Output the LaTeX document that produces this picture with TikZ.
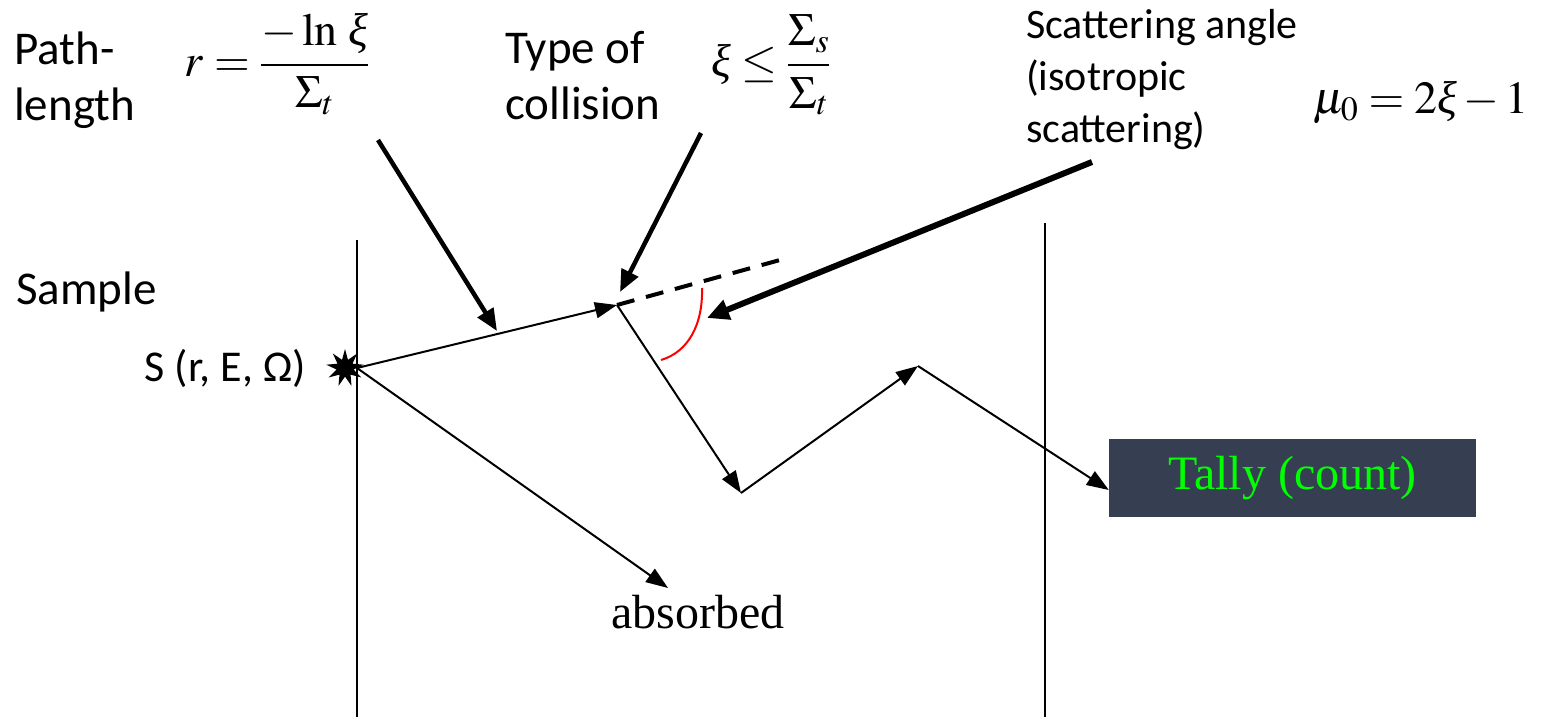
\documentclass[tikz,border=0pt]{standalone}
\usepackage{mathptmx}
\usepackage[no-math]{fontspec}
\setmainfont{Carlito}
\newfontfamily\serifrm{Liberation Serif}
\newcommand\xii{\mbox{\serifrm\itshape ξ}}
\usetikzlibrary{shapes.geometric,arrows.meta,calc}
\definecolor{tallybg}{HTML}{353F51}
\definecolor{tallyfg}{HTML}{00FF00}
\begin{document}
\begin{tikzpicture}[x=1pt,y=-1pt,
  lbl/.style={font=\fontsize{47}{56}\selectfont,align=left,inner sep=0pt},
  lbls/.style={font=\fontsize{42}{52}\selectfont,align=left,inner sep=0pt},
  eq/.style={font=\fontsize{46}{54}\selectfont,inner sep=0pt},
  thinarrow/.style={line width=2pt,-{Triangle[length=22pt,width=16pt]}},
  thickarrow/.style={line width=4.5pt,-{Triangle[length=22pt,width=18pt]}},
  heavyarrow/.style={line width=6pt,-{Triangle[length=22pt,width=20pt]}},
  wall/.style={line width=1.8pt}]
\useasboundingbox (0,0) rectangle (1541,717);
% walls
\draw[wall] (357,240) -- (357,717);
\draw[wall] (1045,223) -- (1045,717);
% labels
\node[lbl,anchor=west] (pl) at (14,80) {Path-\\length};
\node[eq] (f1) at (277,64) {$\displaystyle r=\frac{-\ln\,\xii}{\Sigma_t}$};
\node[lbl,anchor=west] (tc) at (505,76) {Type of\\collision};
\node[eq] (f2) at (771,65) {$\displaystyle \xii\leq\frac{\Sigma_s}{\Sigma_t}$};
\node[lbls,anchor=west] (sa) at (1026,80) {Scattering angle\\(isotropic\\scattering)};
\node[eq] (f3) at (1421,103) {$\mu_0=2\xii-1$};
\node[lbl,anchor=west] (sm) at (16,292) {Sample};
\node[lbl,font=\fontsize{44}{52}\selectfont,anchor=east] (sl) at (306,368) {S (r, E, Ω)};
\node[star,star points=9,star point ratio=2.2,fill=black,minimum size=38pt,inner sep=0pt] (star) at (345,368) {};
\node[font=\serifrm\fontsize{48}{54}\selectfont,inner sep=0pt] (abs) at (698,612) {absorbed};
\node[fill=tallybg,minimum width=367pt,minimum height=78pt,inner sep=0pt,
      text=tallyfg,font=\serifrm\fontsize{48}{54}\selectfont] (tally) at (1292.5,478) {\raisebox{-4pt}{Tally (count)}};
% path points
\coordinate (src) at (357,368);
\coordinate (coll) at (617,305);
\coordinate (b1) at (741,493);
\coordinate (b2) at (918,366);
\coordinate (absend) at (668,588);
\coordinate (dashend) at (780,260);
% pointer arrows
\coordinate (p1s) at (378,140);
\coordinate (p1e) at (497,331);
\coordinate (p2s) at (701,133);
\coordinate (p2e) at (620,292);
\coordinate (p3s) at (1092,162);
\coordinate (p3e) at (707,318);
% particle track
\draw[thinarrow] (src) -- (coll);
\draw[thinarrow] (coll) -- (b1);
\draw[thinarrow] (b1) -- (b2);
\draw[thinarrow] (b2) -- ($(tally.west)+(0,12)$);
\draw[thinarrow] (src) -- (absend);
\draw[line width=4pt,dash pattern=on 18pt off 12pt] (coll) -- (dashend);
\draw[red,line width=2pt] (702,288) .. controls (703,325) and (688,352) .. (661,360);
% explanation arrows
\draw[thickarrow] (p1s) -- (p1e);
\draw[thickarrow] (p2s) -- (p2e);
\draw[heavyarrow] (p3s) -- (p3e);
\end{tikzpicture}
\end{document}
